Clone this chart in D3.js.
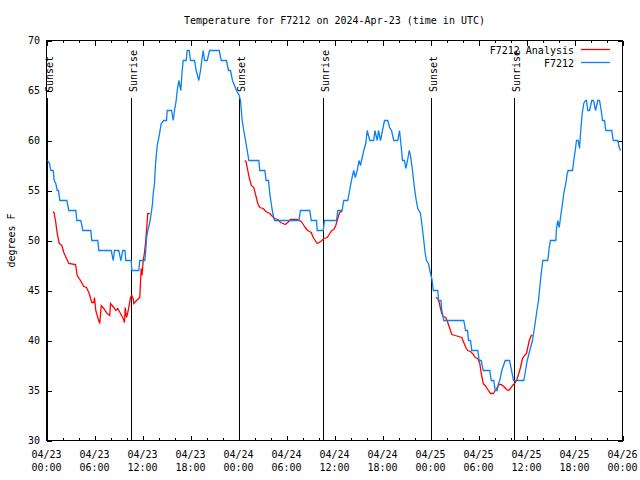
<!DOCTYPE html>
<html>
<head>
<meta charset="utf-8">
<script src="https://cdn.jsdelivr.net/npm/d3@7"></script>
<style>
  html, body { margin: 0; padding: 0; background: #ffffff; }
  svg { display: block; }
  text { font-family: "DejaVu Sans Mono", "Liberation Mono", monospace; font-size: 10px; fill: #000; }
</style>
</head>
<body>
<svg id="chart" width="640" height="480"></svg>
<script>
// ---- data (hours since 04/23 00:00 UTC, degrees F) ----
const f7212Hours = [0.13,0.38,0.54,0.84,0.96,1.16,1.34,1.5,1.66,2.54,2.79,3.66,3.79,4.29,4.54,5.54,5.66,6.41,6.54,8.09,8.34,8.5,9.04,9.29,9.54,9.81,9.91,10.59,10.66,11.54,11.66,12.29,12.41,12.5,12.66,12.88,13.09,13.25,13.34,13.5,13.63,13.84,14.09,14.34,14.66,15,15.09,15.63,15.84,16,16.21,16.34,16.54,16.79,16.96,17.09,17.46,17.59,17.84,18,18.5,18.71,19.04,19.25,19.41,19.59,19.75,20.09,20.38,21.59,21.84,22.5,22.75,23,23.25,23.75,24.09,24.25,24.46,24.66,24.88,25.09,25.29,26.54,26.66,27.29,27.46,27.75,27.91,28.09,28.29,28.5,31.54,31.75,32.91,33.09,33.75,33.84,34.59,34.75,36.25,36.41,36.94,37.16,37.66,37.84,38,38.25,38.41,38.59,38.84,39.06,39.25,39.38,39.66,39.91,40.09,40.25,40.41,40.91,41.04,41.34,41.5,41.75,42,42.25,42.66,42.88,43.13,43.41,43.91,44.13,44.41,44.5,44.75,44.91,45.13,45.34,45.5,45.75,45.91,46.16,46.41,46.75,46.91,47.16,47.34,47.5,47.75,48,48.16,48.25,48.34,48.91,49,49.31,49.41,49.59,49.66,52.16,52.38,52.63,52.75,53,53.16,53.91,54.09,54.34,54.59,55.41,55.59,55.91,56.09,56.34,56.5,56.66,56.91,57.34,57.88,58.13,58.38,59.66,59.88,60.09,60.41,60.75,61,61.25,61.5,61.66,61.84,62.04,62.66,62.84,63,63.66,63.75,63.91,64.09,64.25,64.5,64.66,64.91,65.09,65.21,65.75,65.91,66.09,66.25,66.46,66.63,66.75,66.96,67.16,67.38,67.5,67.66,67.88,68.16,68.38,68.63,68.91,69.13,69.34,69.5,69.75,69.91,70.66,70.84,71.41,71.59,71.75];
const f7212Temps = [58,57.7,57,57,56,55.7,55,55,54,54,53,53,52,52,51,51,50,50,49,49,48,49,49,48,49,49,48,48,47,47,48,48,49,50.2,51,51.7,52.7,53.7,54.7,55.7,57.7,59.5,60.5,61.7,62,62,63,63,62,63,64,65,66,65,67,68,68,69,69,68,68,67,66,67,68,69,68,68,69,69,68,68,67,67,66,65,64.5,64,62,61,60,59,58,58,57,57,56,56,54.7,53.7,52.7,52,52,53,53,52,52,51,51,52,52,53,53,54,54,54.8,55.5,56.5,57,56.3,57,58,57.5,58,59,59.7,61,60.5,60,60,61,60,61,60,61,62,62,61.3,61,60,60,61,58.8,58,58,57.2,58,59,58.5,57,55.8,54.3,53.2,52.7,51.7,50,48.7,48,47.7,46.7,46.2,45.7,45,45,44,44,43,42.3,42,42,41,41,40,40,39,39,38,38,37,37,36,36,35,35,35.7,36,37,38,38,37,36,36,37,38,39,40,41.3,42.7,44,45.3,46.7,48,48,49.3,50,50,51.2,52,51.3,52.3,53.7,54.7,55.7,56.7,57,57,58,59,60,60,59.2,60.7,62.7,63.7,64,64,63,63,64,64,63,64,64,63,62,62,61,61,60,60,59.3,59];

const analysisHours = [0.79,0.94,1.16,1.34,1.59,1.91,2.16,2.5,2.79,3.63,3.84,4.25,4.66,5,5.34,5.66,5.91,6,6.16,6.41,6.66,6.84,7.16,7.59,7.91,8,8.41,8.66,8.91,9.25,9.59,9.75,9.84,10,10.16,10.34,10.5,10.66,10.84,10.91,11.25,11.66,11.75,11.84,11.94,12.09,12.25,12.41,12.59,12.66,12.91,
  18,
  24.79,24.94,25.16,25.34,25.59,25.91,26.16,26.41,26.66,27.09,27.41,27.91,28.25,28.5,28.91,29.25,29.59,29.84,30.16,30.5,31.34,31.84,32.09,32.34,32.66,33.09,33.34,33.59,33.84,34.09,34.41,34.66,35.09,35.41,35.66,35.91,36.16,36.34,36.59,36.75,36.96,
  42,
  48.66,48.91,49.09,49.25,49.41,49.59,49.91,50.16,50.41,50.66,51.09,51.5,51.91,52.16,52.41,52.66,53,53.25,53.59,53.91,54.16,54.34,54.59,54.91,55.16,55.5,55.84,56.09,56.34,56.59,56.84,57.16,57.5,57.75,58,58.25,58.5,58.75,59,59.25,59.5,59.75,60,60.16,60.34,60.59,60.75];
const analysisTemps = [52.9,52.8,51.8,50.7,49.7,49.5,48.8,48.2,47.7,47.6,46.5,46,45.4,45.3,44.7,43.8,43.8,44.3,43,42.3,41.7,43.5,43.2,42.7,42.5,43.7,43.3,43,43.2,42.7,42.2,41.8,43.3,42.3,42.8,43.5,44.3,44.5,44.2,43.7,44,44.3,45.8,47.2,46.5,48,48.8,50,52,52.7,52.7,
  null,
  58,57.9,57,56.3,55.5,55.3,54.5,53.7,53.3,53.2,52.9,52.7,52.4,52.2,52.1,51.8,51.7,51.6,51.8,52.1,52.1,51.9,51.6,51.3,51,50.8,50.3,50,49.7,49.8,50,50.2,50.3,50.7,51,51.1,51.5,52,52.7,52.9,52.9,
  null,
  44.3,44.2,43.8,43.2,42.7,42.4,42.3,41.8,41.2,40.6,40.5,40.4,40.3,39.8,39.3,39,38.9,38.7,38.3,38.2,37.7,36.7,35.7,35.4,35.1,34.7,34.7,35,35.3,35.6,35.6,35.4,35.1,35,35.2,35.5,35.7,36,36.6,37.3,38.2,38.5,38.7,39.3,40,40.5,40.5];

const sunEventHours = [0.1, 10.66, 24.17, 34.66, 48.16, 58.54];
const sunEventLabels = ["Sunset", "Sunrise", "Sunset", "Sunrise", "Sunset", "Sunrise"];

const xTickHours = [0, 6, 12, 18, 24, 30, 36, 42, 48, 54, 60, 66, 72];
const xTickDates = ["04/23","04/23","04/23","04/23","04/24","04/24","04/24","04/24","04/25","04/25","04/25","04/25","04/26"];
const xTickTimes = ["00:00","06:00","12:00","18:00","00:00","06:00","12:00","18:00","00:00","06:00","12:00","18:00","00:00"];
const yTicks = [30, 35, 40, 45, 50, 55, 60, 65, 70];

const seriesNames = ["F7212 Analysis", "F7212"];
const seriesColors = ["#ff0000", "#0a80f2"];
const titleText = "Temperature for F7212 on 2024-Apr-23 (time in UTC)";
const yLabelText = "degrees F";

// ---- drawing ----
const svg = d3.select("#chart");
const L = 46.5, R = 622.5, T = 40.5, B = 440.5;
const x = d3.scaleLinear().domain([0, 72]).range([L, R]);
const y = d3.scaleLinear().domain([30, 70]).range([B, T]);

// title
svg.append("text").attr("x", (L + R) / 2).attr("y", 23.5)
  .attr("text-anchor", "middle").text(titleText);

// y label
svg.append("text").attr("transform", `translate(14.5,${(T + B) / 2}) rotate(-90)`)
  .attr("text-anchor", "middle").text(yLabelText);

// axes ticks
const minorHours = d3.range(0, 73, 2);
function drawAxis(axis, tx, ty) {
  const g = svg.append("g").attr("transform", `translate(${tx},${ty})`).call(axis);
  g.select(".domain").remove();
  g.selectAll("line").attr("stroke", "#000").attr("shape-rendering", "crispEdges");
  g.selectAll("text").remove();
  return g;
}
drawAxis(d3.axisBottom(x).tickValues(minorHours).tickSize(-2.5).tickFormat(""), 0, B);
drawAxis(d3.axisBottom(x).tickValues(xTickHours).tickSize(-5).tickFormat(""), 0, B);
drawAxis(d3.axisTop(x).tickValues(minorHours).tickSize(-2.5).tickFormat(""), 0, T);
drawAxis(d3.axisTop(x).tickValues(xTickHours).tickSize(-5).tickFormat(""), 0, T);
drawAxis(d3.axisLeft(y).tickValues(yTicks).tickSize(-5).tickFormat(""), L, 0);
drawAxis(d3.axisRight(y).tickValues(yTicks).tickSize(-5).tickFormat(""), R, 0);

// y tick labels
svg.append("g").selectAll("text").data(yTicks).join("text")
  .attr("x", 40).attr("y", d => y(d) + 3.5)
  .attr("text-anchor", "end").text(d => d);

// x tick labels (two lines)
const xl = svg.append("g").selectAll("text").data(xTickHours).join("text")
  .attr("text-anchor", "middle");
xl.append("tspan").attr("x", d => x(d)).attr("y", 457.5).text((d, i) => xTickDates[i]);
xl.append("tspan").attr("x", d => x(d)).attr("y", 470.5).text((d, i) => xTickTimes[i]);

// frame
svg.append("rect").attr("x", L).attr("y", T).attr("width", R - L).attr("height", B - T)
  .attr("fill", "none").attr("stroke", "#000").attr("shape-rendering", "crispEdges");

// sun events
const sun = svg.append("g");
sun.selectAll("line").data(sunEventHours).join("line")
  .attr("x1", d => Math.round(x(d) - 0.5) + 0.5).attr("x2", d => Math.round(x(d) - 0.5) + 0.5)
  .attr("y1", 98).attr("y2", B)
  .attr("stroke", "#000").attr("shape-rendering", "crispEdges");
sun.selectAll("text").data(sunEventHours).join("text")
  .attr("transform", d => `translate(${x(d) + 5.5},92) rotate(-90)`)
  .attr("text-anchor", "start")
  .text((d, i) => sunEventLabels[i]);

// series
const line = d3.line().defined(d => d[1] != null).x(d => x(d[0])).y(d => y(d[1]));
const analysisData = analysisHours.map((h, i) => [h, analysisTemps[i]]);
const f7212Data = f7212Hours.map((h, i) => [h, f7212Temps[i]]);
svg.append("path").datum(analysisData).attr("d", line)
  .attr("fill", "none").attr("stroke", seriesColors[0]).attr("stroke-width", 1.3);
svg.append("path").datum(f7212Data).attr("d", line)
  .attr("fill", "none").attr("stroke", seriesColors[1]).attr("stroke-width", 1.3);

// legend
const legendY = [50, 63];
seriesNames.forEach((name, i) => {
  svg.append("text").attr("x", 574).attr("y", legendY[i] + 3.5)
    .attr("text-anchor", "end").text(name);
  svg.append("line").attr("x1", 581).attr("x2", 610)
    .attr("y1", legendY[i] - 0.5).attr("y2", legendY[i] - 0.5)
    .attr("stroke", seriesColors[i]).attr("stroke-width", 1.3);
});
</script>
</body>
</html>
